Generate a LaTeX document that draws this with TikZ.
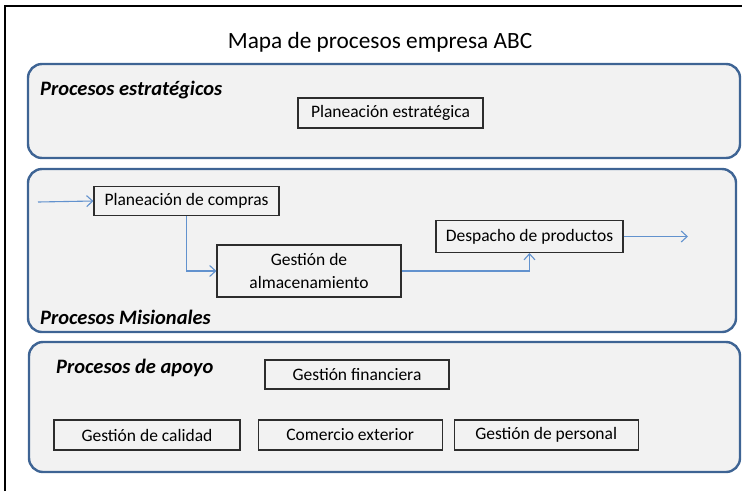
\documentclass[tikz,border=0pt]{standalone}
\usepackage{fontspec}
\setmainfont{Carlito}
\usepackage{tikz}
\usetikzlibrary{arrows.meta}
\usetikzlibrary{positioning}

\definecolor{panelblue}{RGB}{62,100,148}
\definecolor{panelgray}{RGB}{242,242,242}
\definecolor{flowblue}{RGB}{98,146,206}
\definecolor{boxline}{RGB}{45,45,45}

\begin{document}
\begin{tikzpicture}[x=1pt, y=-1pt]
\tikzstyle{panel}=[draw=panelblue, line width=2.4pt, fill=panelgray, rounded 
corners=14pt]
\tikzstyle{proc}=[draw=boxline, line width=1.1pt, inner sep=0pt, minimum 
width=185pt, minimum height=30pt, font=\fontsize{17.5}{22}\selectfont, align=center]
\tikzstyle{group}=[anchor=west, inner sep=0pt, font=\fontsize{20.5}{24}\selectfont\bfseries\itshape]
\tikzstyle{flow}=[draw=flowblue, line width=1.1pt, -{Straight Barb[length=6pt, 
width=11pt]}]
	\useasboundingbox (0,0) rectangle (742,491);
	
	% frame
	\draw [line width=2.4pt] (5,491) -- (5,6) -- (742,6);
	\node (title) at (380,42) {\fontsize{23.3}{26}\selectfont Mapa de procesos 
	empresa ABC};
	
	% panels
	\draw [panel] (28,64) rectangle (740,158);
	\draw [panel] (28,169) rectangle (736,332);
	\draw [panel] (29,342) rectangle (740,472);
	\node [group] (G1) at (40,90) {Procesos estratégicos};
	\node [group] (G2) at (40,317) {Procesos Misionales};
	\node [group] (G3) at (56,368) {Procesos de apoyo};
	
	% strategic
	\node [proc] (P1) at (390.5,113) {Planeación estratégica};
	
	% core
	\node [proc, minimum height=29pt] (M1) at (186.5,201) {Planeación de 
	compras};
	\node [proc, minimum width=184pt, minimum height=52pt] (M2) at (309,271) 
	{Gestión de\\[1pt]almacenamiento};
	\node [proc, minimum width=187pt, minimum height=32pt] (M3) at (529.5,236.5) 
	{Despacho de productos};
	\coordinate (in) at (38,202);
	\coordinate (out) at (688,236.5);
	
	% support
	\node [proc, minimum width=184pt, minimum height=29pt] (S1) at (357,374.5) 
	{Gestión financiera};
	\node [proc, minimum width=186pt] (S2) at (147,435) {Gestión de calidad};
	\node [proc, minimum width=184pt, right = 17pt of S2] (S3) {Comercio 
	exterior};
	\node [proc, minimum width=184pt, right = 11pt of S3] (S4) {Gestión de 
	personal};
	
	% flows
	\draw [flow] (in) -- (M1.west);
	\draw [flow] (M1.south) |- (M2.west);
	\draw [flow] (M2.east) -| (M3.south);
	\draw [flow] (M3.east) -- (out);
\end{tikzpicture}
\end{document}
